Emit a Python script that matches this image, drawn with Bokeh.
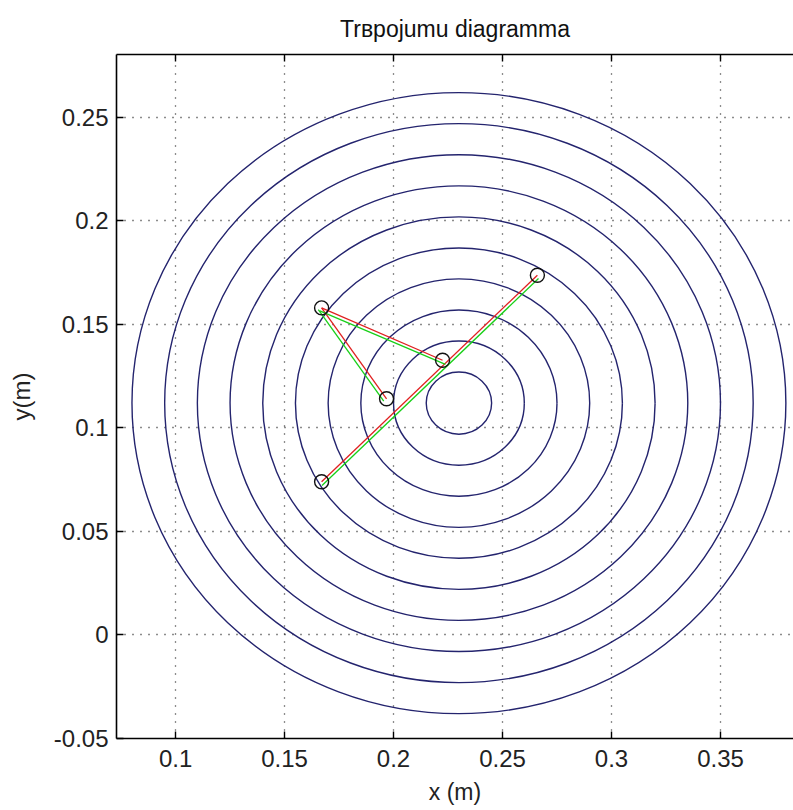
from bokeh.plotting import figure
from bokeh.models import LinearAxis, FixedTicker, Range1d
from bokeh.embed import file_html
from bokeh.resources import INLINE

# ---------------- data ----------------
circle_center_x = [0.23] * 10
circle_center_y = [0.112] * 10
circle_radii = [0.015, 0.03, 0.045, 0.06, 0.075, 0.09, 0.105, 0.12, 0.135, 0.15]

joint_x = [0.167, 0.2225, 0.1968, 0.266, 0.167]
joint_y = [0.158, 0.1327, 0.1141, 0.1738, 0.074]

red_links_x = [[0.167, 0.2225], [0.167, 0.1968], [0.167, 0.266]]
red_links_y = [[0.158, 0.1327], [0.158, 0.1141], [0.074, 0.1738]]
green_links_x = [[0.1662, 0.2238], [0.1655, 0.1955], [0.1672, 0.2665]]
green_links_y = [[0.1566, 0.1307], [0.1572, 0.1130], [0.0722, 0.1722]]

x_ticks = [0.1, 0.15, 0.2, 0.25, 0.3, 0.35]
x_tick_labels = ["0.1", "0.15", "0.2", "0.25", "0.3", "0.35"]
y_ticks = [-0.05, 0, 0.05, 0.1, 0.15, 0.2, 0.25]
y_tick_labels = ["-0.05", "0", "0.05", "0.1", "0.15", "0.2", "0.25"]

FONT = "Liberation Sans"

p = figure(width=793, height=810,
           x_range=Range1d(0.0729, 0.3835), y_range=Range1d(-0.05, 0.2804),
           output_backend="svg", toolbar_location=None,
           min_border_left=116, min_border_right=0,
           min_border_top=53, min_border_bottom=72,
           title="Trвpojumu diagramma")
p.outline_line_color = None
p.background_fill_color = "white"
p.border_fill_color = "white"

p.title.text_font = FONT
p.title.text_font_size = "23px"
p.title.text_font_style = "normal"
p.title.text_color = "#111111"
p.title.align = "center"
p.title.standoff = 26


def style_axis(ax, ticks, labels, show_labels=True):
    ax.ticker = FixedTicker(ticks=ticks)
    ax.major_label_overrides = {t: (l if show_labels else "") for t, l in zip(ticks, labels)}
    ax.major_tick_in = 7
    ax.major_tick_out = 0
    ax.minor_tick_in = 0
    ax.minor_tick_out = 0
    ax.axis_line_color = "black"
    ax.axis_line_width = 1.6
    ax.major_tick_line_color = "black"
    ax.major_tick_line_width = 1.4
    ax.major_label_text_font = FONT
    ax.major_label_text_font_size = "24px"
    ax.major_label_text_color = "#222222"


style_axis(p.xaxis[0], x_ticks, x_tick_labels)
p.xaxis[0].major_label_standoff = 11
p.xaxis[0].axis_label = "x (m)"
p.xaxis[0].axis_label_text_font = FONT
p.xaxis[0].axis_label_text_font_size = "23px"
p.xaxis[0].axis_label_text_font_style = "normal"
p.xaxis[0].axis_label_text_color = "#222222"
p.xaxis[0].axis_label_standoff = 9

style_axis(p.yaxis[0], y_ticks, y_tick_labels)
p.yaxis[0].major_label_standoff = 8
p.yaxis[0].axis_label = "y(m)"
p.yaxis[0].axis_label_text_font = FONT
p.yaxis[0].axis_label_text_font_size = "24px"
p.yaxis[0].axis_label_text_font_style = "normal"
p.yaxis[0].axis_label_text_color = "#222222"
p.yaxis[0].axis_label_standoff = 16

top_axis = LinearAxis()
style_axis(top_axis, x_ticks, x_tick_labels, show_labels=False)
top_axis.major_label_standoff = 0
p.add_layout(top_axis, "above")

# grid
for g, t in ((p.xgrid[0], x_ticks), (p.ygrid[0], y_ticks)):
    g.ticker = FixedTicker(ticks=t)
    g.grid_line_color = "black"
    g.grid_line_width = 1.3
    g.grid_line_dash = "1 7"
    g.grid_line_alpha = 0.9

# concentric circles
diam = [2 * r for r in circle_radii]
p.ellipse(x=circle_center_x, y=circle_center_y, width=diam, height=diam,
          fill_color=None, line_color="#24246e", line_width=1.4)

# links
p.multi_line(xs=red_links_x, ys=red_links_y, line_color="#e02020", line_width=1.3)
p.multi_line(xs=green_links_x, ys=green_links_y, line_color="#18d018", line_width=1.3)

# joints
p.scatter(x=joint_x, y=joint_y, marker="circle", size=14,
          fill_color=None, line_color="#111111", line_width=1.4)

open("out.html", "w").write(file_html(p, INLINE))
